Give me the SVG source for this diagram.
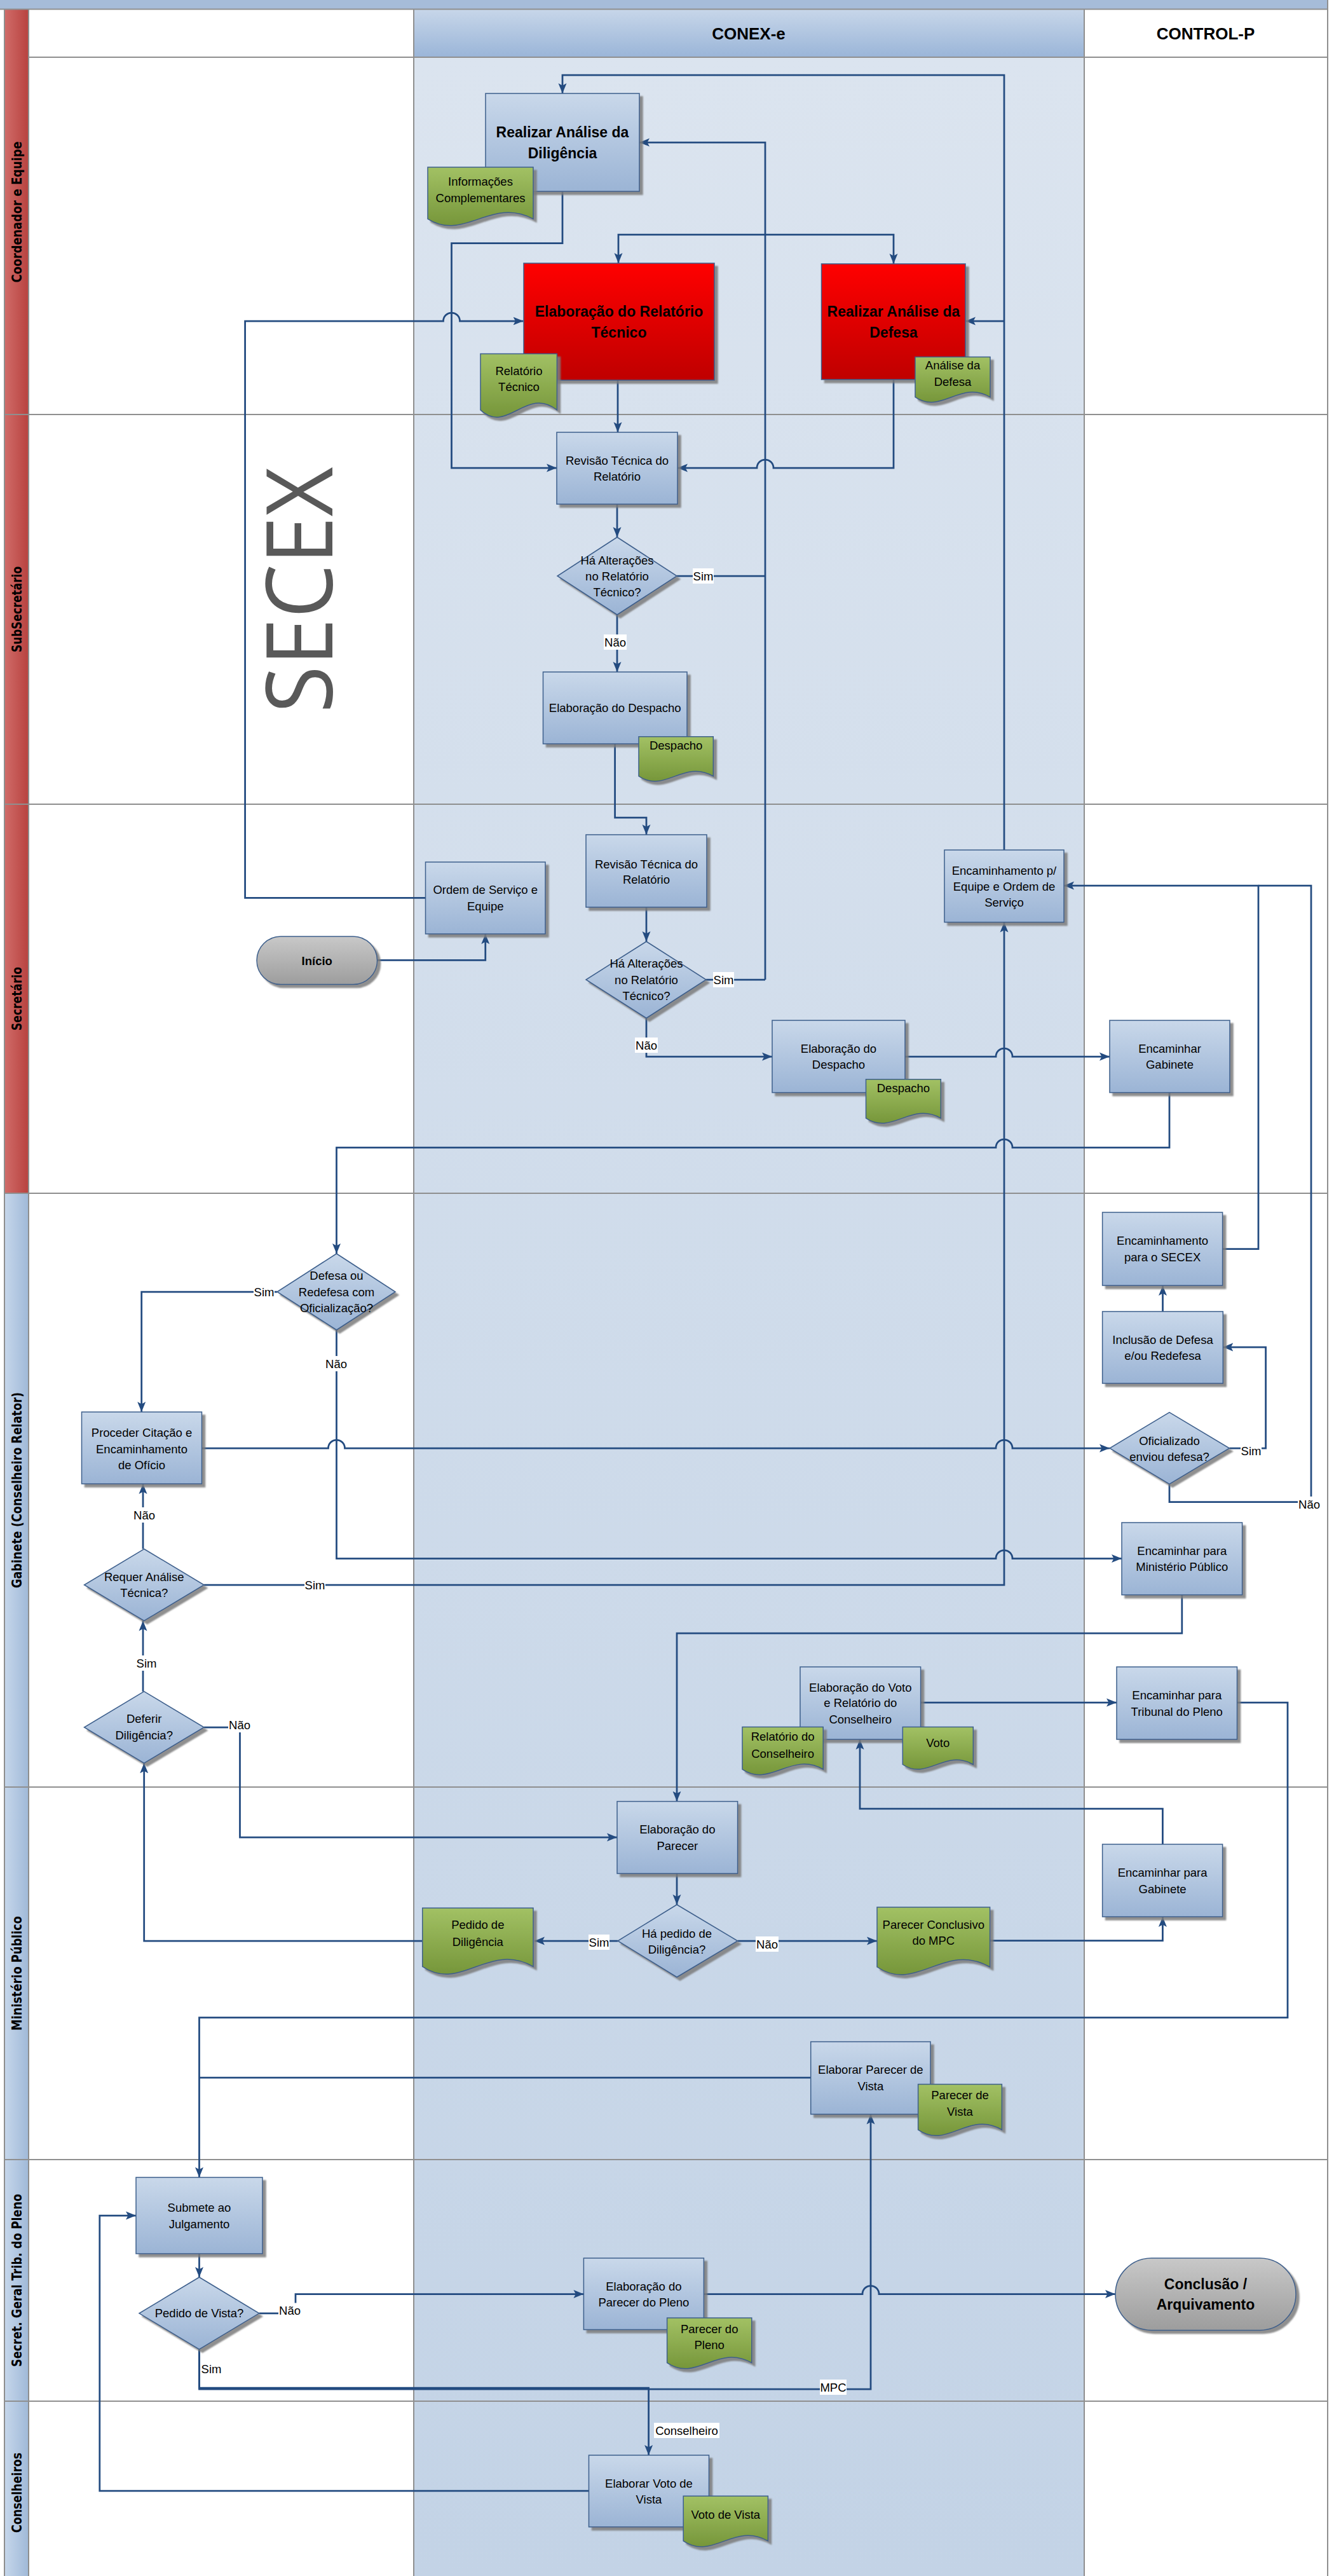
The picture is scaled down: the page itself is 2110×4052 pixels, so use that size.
<svg xmlns="http://www.w3.org/2000/svg" width="2110" height="4052" viewBox="0 0 2110 4052">
<defs>
<linearGradient id="gBox" x1="0" y1="0" x2="0" y2="1"><stop offset="0" stop-color="#c9d8ea"/><stop offset="1" stop-color="#9bb4d5"/></linearGradient>
<linearGradient id="gRed" x1="0" y1="0" x2="0" y2="1"><stop offset="0" stop-color="#ff0000"/><stop offset="1" stop-color="#bf0000"/></linearGradient>
<linearGradient id="gDoc" x1="0" y1="0" x2="0" y2="1"><stop offset="0" stop-color="#a2c164"/><stop offset="1" stop-color="#76963a"/></linearGradient>
<linearGradient id="gTerm" x1="0" y1="0" x2="0" y2="1"><stop offset="0" stop-color="#c8c8c8"/><stop offset="1" stop-color="#9d9d9d"/></linearGradient>
<linearGradient id="gHead" x1="0" y1="0" x2="0" y2="1"><stop offset="0" stop-color="#c7d6e9"/><stop offset="1" stop-color="#9ab5d8"/></linearGradient>
<linearGradient id="gCol" x1="0" y1="0" x2="0" y2="1"><stop offset="0" stop-color="#dbe4ef"/><stop offset="1" stop-color="#c3d3e6"/></linearGradient>
<linearGradient id="gStripR" x1="0" y1="0" x2="1" y2="0"><stop offset="0" stop-color="#d06c69"/><stop offset="1" stop-color="#b8423f"/></linearGradient>
<linearGradient id="gStripB" x1="0" y1="0" x2="1" y2="0"><stop offset="0" stop-color="#c6d7eb"/><stop offset="1" stop-color="#a0b9d8"/></linearGradient>
<filter id="sh" x="-5%" y="-5%" width="120%" height="125%"><feDropShadow dx="5" dy="5" stdDeviation="1" flood-color="#7a7a7a" flood-opacity="0.85"/></filter>
<marker id="ah" markerUnits="userSpaceOnUse" markerWidth="18" markerHeight="14" refX="16" refY="7" orient="auto"><path d="M0,0.5 L16,7 L0,13.5 L3.5,7 z" fill="#234b80"/></marker>
</defs>
<style>
.ln{stroke:#8f8f8f;stroke-width:2;fill:none}
.box{fill:url(#gBox);stroke:#3d5f8c;stroke-width:1.5;filter:url(#sh)}
.red{fill:url(#gRed);stroke:#3d5f8c;stroke-width:1.5;filter:url(#sh)}
.doc{fill:url(#gDoc);stroke:#3d5f8c;stroke-width:1.5;filter:url(#sh)}
.term{fill:url(#gTerm);stroke:#3d5f8c;stroke-width:1.5;filter:url(#sh)}
.t{font-family:"Liberation Sans",Arial,sans-serif;font-size:18.5px;fill:#000;text-anchor:middle}
.tb{font-weight:bold;font-size:23px}
.lane{font-family:"DejaVu Sans",Verdana,sans-serif;font-weight:bold;font-size:20.5px;fill:#000;text-anchor:middle}
.hd{font-family:"Liberation Sans",Arial,sans-serif;font-weight:bold;font-size:26px;fill:#000;text-anchor:middle}
.c{fill:none;stroke:#234b80;stroke-width:2.75}
.a{marker-end:url(#ah)}
.bg{fill:#fff}
</style>

<g id="background">
<rect x="0" y="0" width="2110" height="4052" fill="#fff"/>
<rect x="0" y="0" width="2089" height="14" fill="#a6bcd9"/>
<rect x="651" y="90" width="1055" height="3962" fill="url(#gCol)"/>
<rect x="651" y="15" width="1055" height="75" fill="url(#gHead)"/>
<rect x="7" y="15" width="38" height="637" fill="url(#gStripR)"/>
<rect x="7" y="652" width="38" height="613" fill="url(#gStripR)"/>
<rect x="7" y="1265" width="38" height="612" fill="url(#gStripR)"/>
<rect x="7" y="1877" width="38" height="934" fill="url(#gStripB)"/>
<rect x="7" y="2811" width="38" height="586" fill="url(#gStripB)"/>
<rect x="7" y="3397" width="38" height="380" fill="url(#gStripB)"/>
<rect x="7" y="3777" width="38" height="275" fill="url(#gStripB)"/>
<path class="ln" d="M0,14.5 H2089 M45,90 H2089 M7,652 H2089 M7,1265 H2089 M7,1877 H2089 M7,2811 H2089 M7,3397 H2089 M7,3777 H2089 M7,15 V4052 M45,15 V4052 M651,15 V4052 M1706,15 V4052 M2089,0 V4052"/>
<text class="hd" x="1178" y="62">CONEX-e</text>
<text class="hd" x="1897" y="62">CONTROL-P</text>
<text class="lane" transform="translate(34,333.5) rotate(-90)" textLength="222" lengthAdjust="spacingAndGlyphs">Coordenador e Equipe</text>
<text class="lane" transform="translate(34,958.5) rotate(-90)" textLength="135" lengthAdjust="spacingAndGlyphs">SubSecretário</text>
<text class="lane" transform="translate(34,1571) rotate(-90)" textLength="100" lengthAdjust="spacingAndGlyphs">Secretário</text>
<text class="lane" transform="translate(34,2344) rotate(-90)" textLength="308" lengthAdjust="spacingAndGlyphs">Gabinete (Conselheiro Relator)</text>
<text class="lane" transform="translate(34,3104) rotate(-90)" textLength="180" lengthAdjust="spacingAndGlyphs">Ministério Público</text>
<text class="lane" transform="translate(34,3587) rotate(-90)" textLength="272" lengthAdjust="spacingAndGlyphs">Secret. Geral Trib. do Pleno</text>
<text class="lane" transform="translate(34,3921) rotate(-90)" textLength="126" lengthAdjust="spacingAndGlyphs">Conselheiros</text>
<text transform="translate(523,928) rotate(-90)" font-family="'Open Sans',sans-serif" font-size="144" fill="#595959" text-anchor="middle" textLength="387" lengthAdjust="spacingAndGlyphs">SECEX</text>
</g>

<g id="connectors">
<path class="c a" d="M1580,1337 V118 H885 V147"/>
<path class="c a" d="M1580,505 H1519"/>
<path class="c" d="M1065,906 H1204"/>
<path class="c" d="M1111,1541 H1204"/>
<path class="c a" d="M1204,1541 V224 H1006"/>
<path class="c a" d="M1204,369 H973 V414"/>
<path class="c a" d="M1204,369 H1406 V415"/>
<path class="c a" d="M885,301.4 V382.5 H710.5 V736 H876"/>
<path class="c a" d="M669.5,1412.4 H385.6 V505 H697.5 a13,13 0 0 1 26,0 H823.5"/>
<path class="c a" d="M972,598 V680"/>
<path class="c a" d="M1406,597 V736 H1217 a13,13 0 0 0 -26,0 H1066"/>
<path class="c a" d="M971,793 V845"/>
<path class="c a" d="M971,967 V1057"/>
<path class="c a" d="M967.6,1170 V1286 H1017 V1313"/>
<path class="c a" d="M1017,1427 V1481"/>
<path class="c a" d="M1017,1601.5 V1662 H1215"/>
<path class="c a" d="M1424,1662 H1567 a13,13 0 0 1 26,0 H1746"/>
<path class="c a" d="M1840,1718.6 V1805 H1593 a13,13 0 0 0 -26,0 H529.5 V1972"/>
<path class="c a" d="M593.5,1510.4 H763.75 V1469"/>
<path class="c a" d="M1923.6,1964.5 H1980 V1393 H1674"/>
<path class="c" d="M1840,2334.4 V2362.6 H2063 V1393 H1980"/>
<path class="c a" d="M1934.4,2278 H1991.6 V2119 H1924.3"/>
<path class="c a" d="M1829.5,2063 V2022"/>
<path class="c a" d="M436,2032 H222.7 V2221"/>
<path class="c a" d="M529.5,2092 V2451.5 H1567 a13,13 0 0 1 26,0 H1765"/>
<path class="c a" d="M317.6,2278 H516.5 a13,13 0 0 1 26,0 H1567 a13,13 0 0 1 26,0 H1746"/>
<path class="c a" d="M225,2436.5 V2334"/>
<path class="c a" d="M321,2493 H1580 V1450.6"/>
<path class="c a" d="M225,2660.7 V2549.5"/>
<path class="c a" d="M321,2717 H377.5 V2890 H971"/>
<path class="c a" d="M1859.8,2508.7 V2569 H1065 V2833.6"/>
<path class="c a" d="M1065,2947 V2996"/>
<path class="c a" d="M972,3053 H841"/>
<path class="c a" d="M1160.6,3053 H1380"/>
<path class="c a" d="M665,3053 H226.7 V2773.3"/>
<path class="c a" d="M1557.6,3052.7 H1829.4 V3015"/>
<path class="c a" d="M1829.4,2901 V2845 H1353 V2736"/>
<path class="c a" d="M1448.6,2678 H1757"/>
<path class="c a" d="M1946.5,2678 H2026 V3173.7 H313.5 V3425"/>
<path class="c" d="M1275.7,3268 H313.5"/>
<path class="c a" d="M313.5,3545 V3582"/>
<path class="c a" d="M407.7,3638.8 H465 V3608.5 H918.4"/>
<path class="c a" d="M1107.5,3608.5 H1357 a13,13 0 0 1 26,0 H1755"/>
<path class="c a" d="M313.5,3695.4 V3756 H1020.6 V3862"/>
<path class="c a" d="M313.5,3695.4 V3758 H1370 V3325.5"/>
<path class="c a" d="M926.5,3918 H156.8 V3485 H214"/>
</g>

<g id="n_diligencia"><rect class="box" x="764" y="147" width="242" height="154"/><text class="t tb"><tspan x="885" y="216">Realizar Análise da</tspan><tspan x="885" y="249">Diligência</tspan></text></g>
<g id="d_infocompl"><path class="doc" d="M673,263 h166 v81.3 c-66.4,-35.1 -107.9,36 -166,0 z"/><text class="t"><tspan x="756" y="291.5">Informações</tspan><tspan x="756" y="317.5">Complementares</tspan></text></g>
<g id="n_elabrel"><rect class="red" x="824" y="414" width="300" height="184"/><text class="t tb"><tspan x="974" y="498">Elaboração do Relatório</tspan><tspan x="974" y="530.6">Técnico</tspan></text></g>
<g id="d_reltec"><path class="doc" d="M756,556.4 h120.4 v88.5 c-48.2,-38.2 -78.3,39.2 -120.4,0 z"/><text class="t"><tspan x="816.5" y="589.5">Relatório</tspan><tspan x="816.5" y="615">Técnico</tspan></text></g>
<g id="n_defesa"><rect class="red" x="1292.5" y="415" width="226.5" height="182"/><text class="t tb"><tspan x="1406" y="498">Realizar Análise da</tspan><tspan x="1406" y="530.6">Defesa</tspan></text></g>
<g id="d_analise"><path class="doc" d="M1440,561.6 h118 v63 c-47.2,-27.2 -76.7,27.9 -118,0 z"/><text class="t"><tspan x="1499" y="581">Análise da</tspan><tspan x="1499" y="607">Defesa</tspan></text></g>

<g id="n_revisao1"><rect class="box" x="876" y="680" width="190" height="113"/><text class="t"><tspan x="971" y="730.5">Revisão Técnica do</tspan><tspan x="971" y="755.5">Relatório</tspan></text></g>
<g id="dm_alt1"><path class="box" d="M971,845 L1065,906 L971,967 L877,906 Z"/><text class="t"><tspan x="971" y="887.5">Há Alterações</tspan><tspan x="971" y="912.5">no Relatório</tspan><tspan x="971" y="938">Técnico?</tspan></text></g>
<g id="n_despacho1"><rect class="box" x="854.5" y="1057" width="226.5" height="113"/><text class="t" x="967.7" y="1119.5">Elaboração do Despacho</text></g>
<g id="d_despacho1"><path class="doc" d="M1005,1158.7 h117.3 v62.2 c-46.9,-26.9 -76.2,27.6 -117.3,0 z"/><text class="t" x="1063.6" y="1178.5">Despacho</text></g>

<g id="n_revisao2"><rect class="box" x="922" y="1313" width="190" height="114"/><text class="t"><tspan x="1017" y="1366">Revisão Técnica do</tspan><tspan x="1017" y="1389.5">Relatório</tspan></text></g>
<g id="dm_alt2"><path class="box" d="M1017,1481 L1111,1541 L1017,1601.5 L922,1541 Z"/><text class="t"><tspan x="1017" y="1522">Há Alterações</tspan><tspan x="1017" y="1548">no Relatório</tspan><tspan x="1017" y="1572.5">Técnico?</tspan></text></g>
<g id="n_despacho2"><rect class="box" x="1215" y="1605" width="209" height="113.6"/><text class="t"><tspan x="1319.5" y="1656">Elaboração do</tspan><tspan x="1319.5" y="1680.5">Despacho</tspan></text></g>
<g id="d_despacho2"><path class="doc" d="M1362.5,1697.8 h117.8 v61.1 c-47.1,-26.4 -76.6,27.1 -117.8,0 z"/><text class="t" x="1421.4" y="1718">Despacho</text></g>
<g id="n_gabinete"><rect class="box" x="1746" y="1605" width="189" height="113.6"/><text class="t"><tspan x="1840.5" y="1656">Encaminhar</tspan><tspan x="1840.5" y="1680.5">Gabinete</tspan></text></g>
<g id="n_encequipe"><rect class="box" x="1486" y="1337" width="188" height="113.6"/><text class="t"><tspan x="1580" y="1375.5">Encaminhamento p/</tspan><tspan x="1580" y="1400.5">Equipe e Ordem de</tspan><tspan x="1580" y="1425.5">Serviço</tspan></text></g>
<g id="n_ordem"><rect class="box" x="669.5" y="1356" width="188.5" height="113"/><text class="t"><tspan x="763.75" y="1406">Ordem de Serviço e</tspan><tspan x="763.75" y="1432">Equipe</tspan></text></g>
<g id="t_inicio"><rect class="term" x="404" y="1473" width="189.5" height="75.6" rx="37.8"/><text class="t" font-weight="bold" font-size="22" x="498.75" y="1518">Início</text></g>

<g id="dm_defesa"><path class="box" d="M529.5,1972 L622,2032 L529.5,2092 L436,2032 Z"/><text class="t"><tspan x="529.5" y="2013">Defesa ou</tspan><tspan x="529.5" y="2039">Redefesa com</tspan><tspan x="529.5" y="2064">Oficialização?</tspan></text></g>
<g id="n_proceder"><rect class="box" x="128.5" y="2221" width="189" height="113"/><text class="t"><tspan x="223" y="2259.5">Proceder Citação e</tspan><tspan x="223" y="2285.5">Encaminhamento</tspan><tspan x="223" y="2310.5">de Ofício</tspan></text></g>
<g id="dm_requer"><path class="box" d="M226.7,2436.5 L321,2493 L226.7,2549.5 L132.5,2493 Z"/><text class="t"><tspan x="226.7" y="2487">Requer Análise</tspan><tspan x="226.7" y="2512">Técnica?</tspan></text></g>
<g id="dm_deferir"><path class="box" d="M226.7,2660.7 L321,2717 L226.7,2773.3 L132.5,2717 Z"/><text class="t"><tspan x="226.7" y="2709.5">Deferir</tspan><tspan x="226.7" y="2735.5">Diligência?</tspan></text></g>
<g id="n_secex"><rect class="box" x="1734.6" y="1907" width="189" height="115"/><text class="t"><tspan x="1829.1" y="1958">Encaminhamento</tspan><tspan x="1829.1" y="1984">para o SECEX</tspan></text></g>
<g id="n_inclusao"><rect class="box" x="1734.6" y="2063" width="189.7" height="113"/><text class="t"><tspan x="1829.5" y="2113.5">Inclusão de Defesa</tspan><tspan x="1829.5" y="2139">e/ou Redefesa</tspan></text></g>
<g id="dm_oficializado"><path class="box" d="M1840,2221.6 L1934.4,2278 L1840,2334.4 L1746,2278 Z"/><text class="t"><tspan x="1840" y="2272.5">Oficializado</tspan><tspan x="1840" y="2297.5">enviou defesa?</tspan></text></g>
<g id="n_encmp"><rect class="box" x="1765" y="2395" width="189.6" height="113.7"/><text class="t"><tspan x="1859.8" y="2445.5">Encaminhar para</tspan><tspan x="1859.8" y="2471">Ministério Público</tspan></text></g>
<g id="n_voto"><rect class="box" x="1259" y="2622" width="189.6" height="114"/><text class="t"><tspan x="1353.8" y="2660.5">Elaboração do Voto</tspan><tspan x="1353.8" y="2684.5">e Relatório do</tspan><tspan x="1353.8" y="2710.5">Conselheiro</tspan></text></g>
<g id="d_relcons"><path class="doc" d="M1168,2716.5 h127.2 v66.6 c-50.9,-28.8 -82.7,29.5 -127.2,0 z"/><text class="t"><tspan x="1231.6" y="2738">Relatório do</tspan><tspan x="1231.6" y="2764.5">Conselheiro</tspan></text></g>
<g id="d_voto"><path class="doc" d="M1420.3,2716.5 h111 v59 c-44.4,-25.5 -72.2,26.1 -111,0 z"/><text class="t" x="1475.8" y="2748">Voto</text></g>
<g id="n_tribunal"><rect class="box" x="1757" y="2622" width="189.5" height="114"/><text class="t"><tspan x="1851.75" y="2672.5">Encaminhar para</tspan><tspan x="1851.75" y="2698.5">Tribunal do Pleno</tspan></text></g>

<g id="n_parecer"><rect class="box" x="971" y="2833.6" width="189.6" height="113.4"/><text class="t"><tspan x="1065.8" y="2884">Elaboração do</tspan><tspan x="1065.8" y="2910">Parecer</tspan></text></g>
<g id="dm_pedido"><path class="box" d="M1065,2996 L1160.6,3053 L1065,3110 L972,3053 Z"/><text class="t"><tspan x="1065" y="3047.5">Há pedido de</tspan><tspan x="1065" y="3072.5">Diligência?</tspan></text></g>
<g id="d_pedido"><path class="doc" d="M664.7,3001.2 h174.3 v92.2 c-69.7,-39.8 -113.3,40.9 -174.3,0 z"/><text class="t"><tspan x="751.8" y="3034">Pedido de</tspan><tspan x="751.8" y="3060.5">Diligência</tspan></text></g>
<g id="d_conclusivo"><path class="doc" d="M1380,3000 h177.6 v94 c-71,-40.6 -115.4,41.7 -177.6,0 z"/><text class="t"><tspan x="1468.8" y="3033.5">Parecer Conclusivo</tspan><tspan x="1468.8" y="3059">do MPC</tspan></text></g>
<g id="n_encgab"><rect class="box" x="1734.6" y="2901" width="189" height="114"/><text class="t"><tspan x="1829.1" y="2951.5">Encaminhar para</tspan><tspan x="1829.1" y="2977.5">Gabinete</tspan></text></g>
<g id="n_vista"><rect class="box" x="1275.7" y="3211.6" width="188.3" height="114"/><text class="t"><tspan x="1369.85" y="3262">Elaborar Parecer de</tspan><tspan x="1369.85" y="3288">Vista</tspan></text></g>
<g id="d_vista"><path class="doc" d="M1444.6,3278.5 h131.8 v71.6 c-52.7,-30.9 -85.7,31.7 -131.8,0 z"/><text class="t"><tspan x="1510.5" y="3301.5">Parecer de</tspan><tspan x="1510.5" y="3327.5">Vista</tspan></text></g>

<g id="n_submete"><rect class="box" x="214" y="3425" width="199" height="120"/><text class="t"><tspan x="313.5" y="3479">Submete ao</tspan><tspan x="313.5" y="3505">Julgamento</tspan></text></g>
<g id="dm_vista"><path class="box" d="M313.5,3582 L407.7,3638.8 L313.5,3695.4 L219,3638.8 Z"/><text class="t" x="313.5" y="3645">Pedido de Vista?</text></g>
<g id="n_pleno"><rect class="box" x="918.4" y="3552" width="189" height="112.5"/><text class="t"><tspan x="1012.9" y="3602.5">Elaboração do</tspan><tspan x="1012.9" y="3628">Parecer do Pleno</tspan></text></g>
<g id="d_pleno"><path class="doc" d="M1049.6,3646 h133.2 v70.7 c-53.3,-30.5 -86.6,31.3 -133.2,0 z"/><text class="t"><tspan x="1116.2" y="3670">Parecer do</tspan><tspan x="1116.2" y="3695">Pleno</tspan></text></g>
<g id="t_conclusao"><rect class="term" x="1755" y="3552" width="284" height="113.4" rx="56.7"/><text class="t tb"><tspan x="1897" y="3601">Conclusão /</tspan><tspan x="1897" y="3633">Arquivamento</tspan></text></g>

<g id="n_votovista"><rect class="box" x="926.5" y="3862" width="189" height="112.8"/><text class="t"><tspan x="1021" y="3912.5">Elaborar Voto de</tspan><tspan x="1021" y="3938">Vista</tspan></text></g>
<g id="d_votovista"><path class="doc" d="M1075.2,3926.2 h133.2 v70.7 c-53.3,-30.5 -86.6,31.3 -133.2,0 z"/><text class="t" x="1141.8" y="3962">Voto de Vista</text></g>

<g id="labels">
<rect class="bg" x="1090" y="894" width="33" height="24"/><text class="t" x="1106.5" y="912.5">Sim</text>
<rect class="bg" x="1122" y="1529" width="33" height="24"/><text class="t" x="1138.5" y="1547.5">Sim</text>
<rect class="bg" x="950" y="998" width="36" height="24"/><text class="t" x="968" y="1016.5">Não</text>
<rect class="bg" x="999" y="1632" width="36" height="24"/><text class="t" x="1017" y="1650.5">Não</text>
<rect class="bg" x="399" y="2020.5" width="33" height="24"/><text class="t" x="415.5" y="2039">Sim</text>
<rect class="bg" x="511" y="2133" width="36" height="24"/><text class="t" x="529" y="2151.5">Não</text>
<rect class="bg" x="209" y="2371" width="36" height="24"/><text class="t" x="227" y="2389.5">Não</text>
<rect class="bg" x="479" y="2481.5" width="33" height="24"/><text class="t" x="495.5" y="2500">Sim</text>
<rect class="bg" x="214" y="2604" width="33" height="24"/><text class="t" x="230.5" y="2622.5">Sim</text>
<rect class="bg" x="359" y="2701" width="36" height="24"/><text class="t" x="377" y="2719.5">Não</text>
<rect class="bg" x="1952" y="2270" width="33" height="24"/><text class="t" x="1968.5" y="2288.5">Sim</text>
<rect class="bg" x="2042" y="2354" width="36" height="24"/><text class="t" x="2060" y="2372.5">Não</text>
<rect class="bg" x="926" y="3043" width="33" height="24"/><text class="t" x="942.5" y="3061.5">Sim</text>
<rect class="bg" x="1189" y="3046" width="36" height="24"/><text class="t" x="1207" y="3064.5">Não</text>
<rect class="bg" x="438" y="3622.5" width="36" height="24"/><text class="t" x="456" y="3641">Não</text>
<rect class="bg" x="316" y="3714" width="33" height="24"/><text class="t" x="332.5" y="3732.5">Sim</text>
<rect class="bg" x="1029" y="3811" width="103" height="24"/><text class="t" x="1080.5" y="3829.5">Conselheiro</text>
<rect class="bg" x="1290" y="3743" width="42" height="24"/><text class="t" x="1311" y="3761.5">MPC</text>
</g>
</svg>
